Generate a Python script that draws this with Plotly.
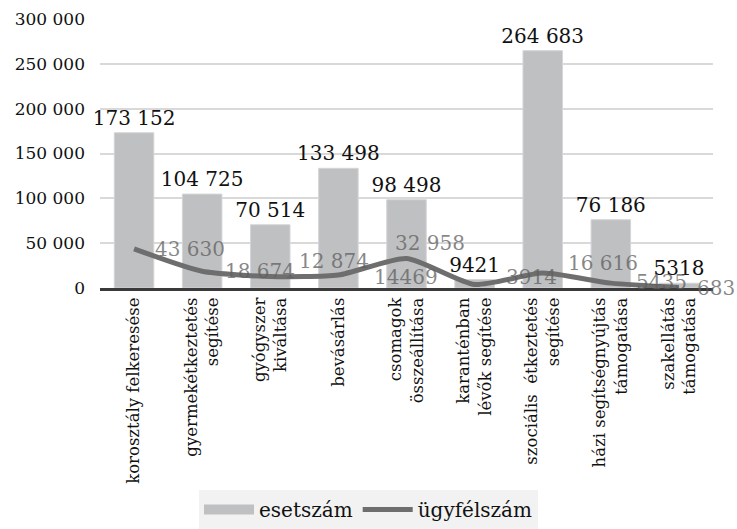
import plotly.graph_objects as go

categories = [
    "korosztály felkeresése",
    "gyermekétkeztetés<br>segítése",
    "gyógyszer<br>kiváltása",
    "bevásárlás",
    "csomagok<br>összeállítása",
    "karanténban<br>lévők segítése",
    "szociális  étkeztetés<br>segítése",
    "házi segítségnyújtás<br>támogatása",
    "szakellátás<br>támogatása",
]
esetszam = [173152, 104725, 70514, 133498, 98498, 9421, 264683, 76186, 5318]
esetszam_labels = ["173 152", "104 725", "70 514", "133 498", "98 498",
                   "9421", "264 683", "76 186", "5318"]
ugyfelszam = [43630, 18674, 12874, 14469, 32958, 3914, 16616, 5435, 683]
ugyfelszam_labels = ["43 630", "18 674", "12 874", "14469", "32 958",
                     "3914", "16 616", "5435", "683"]
tick_vals = [0, 50000, 100000, 150000, 200000, 250000, 300000]
tick_text = ["0", "50 000", "100 000", "150 000", "200 000", "250 000", "300 000"]

FONT = "DejaVu Serif"
BAR_COLOR = "#bfc0c2"
LINE_COLOR = "#6e6e6e"

# pixel offsets of the line labels from their points (as placed in the original)
label_dx = [19, 21, 27, 34, -14, 29, 23, 23, 16]
label_dy = [0, 0, 15, -2, 15, 7, 10, 1, -1]

fig = go.Figure()
fig.add_trace(go.Bar(
    x=categories,
    y=esetszam,
    name="esetszám",
    showlegend=False,
    marker=dict(color=BAR_COLOR, line=dict(color="#d4d5d6", width=1)),
    text=esetszam_labels,
    textposition="outside",
    constraintext="none",
    textfont=dict(family=FONT, size=20, color="#111111"),
    cliponaxis=False,
    width=0.58,
))
# legend entry for the bars: a wide flat swatch like the original legend
fig.add_trace(go.Scatter(
    x=[None], y=[None], mode="lines", name="esetszám",
    line=dict(color=BAR_COLOR, width=10),
))
fig.add_trace(go.Scatter(
    x=categories,
    y=ugyfelszam,
    name="ügyfélszám",
    mode="lines",
    line=dict(color=LINE_COLOR, width=5, shape="spline", smoothing=0.6),
))

for cat, val, lab, dx, dy in zip(categories, ugyfelszam, ugyfelszam_labels,
                                 label_dx, label_dy):
    fig.add_annotation(
        x=cat, y=val, text=lab, showarrow=False,
        xanchor="left", yanchor="middle",
        xshift=dx, yshift=dy,
        font=dict(family=FONT, size=20, color="rgba(95,95,95,0.75)"),
    )

fig.update_layout(
    width=737,
    height=529,
    margin=dict(l=100, r=24, t=19, b=241, autoexpand=False),
    plot_bgcolor="white",
    paper_bgcolor="white",
    font=dict(family=FONT, size=17, color="#111111"),
    bargap=0.42,
    showlegend=True,
    legend=dict(
        orientation="h",
        xref="container", x=0.5, xanchor="center",
        yref="container", y=0, yanchor="bottom",
        bgcolor="#f2f2f2",
        font=dict(family=FONT, size=20, color="#111111"),
        itemwidth=50,
        tracegroupgap=0,
    ),
    xaxis=dict(
        range=[-0.5, len(categories) - 0.5],
        tickangle=-90,
        tickfont=dict(family=FONT, size=16.5, color="#111111"),
        showline=True, linecolor="#3a3a3a", linewidth=3,
        ticks="",
    ),
    yaxis=dict(
        range=[0, 300000],
        tickvals=tick_vals,
        ticktext=tick_text,
        tickfont=dict(family=FONT, size=17, color="#111111"),
        showgrid=True, gridcolor="#d9d9d9", gridwidth=1.5,
        zeroline=False,
        ticklen=0,
        ticklabelstandoff=14,
    ),
)

# drop the browser's default body margin so the figure sits at the top-left
fig.write_html("out.html", config={"displayModeBar": False},
               post_script="document.body.style.margin = '0';")
